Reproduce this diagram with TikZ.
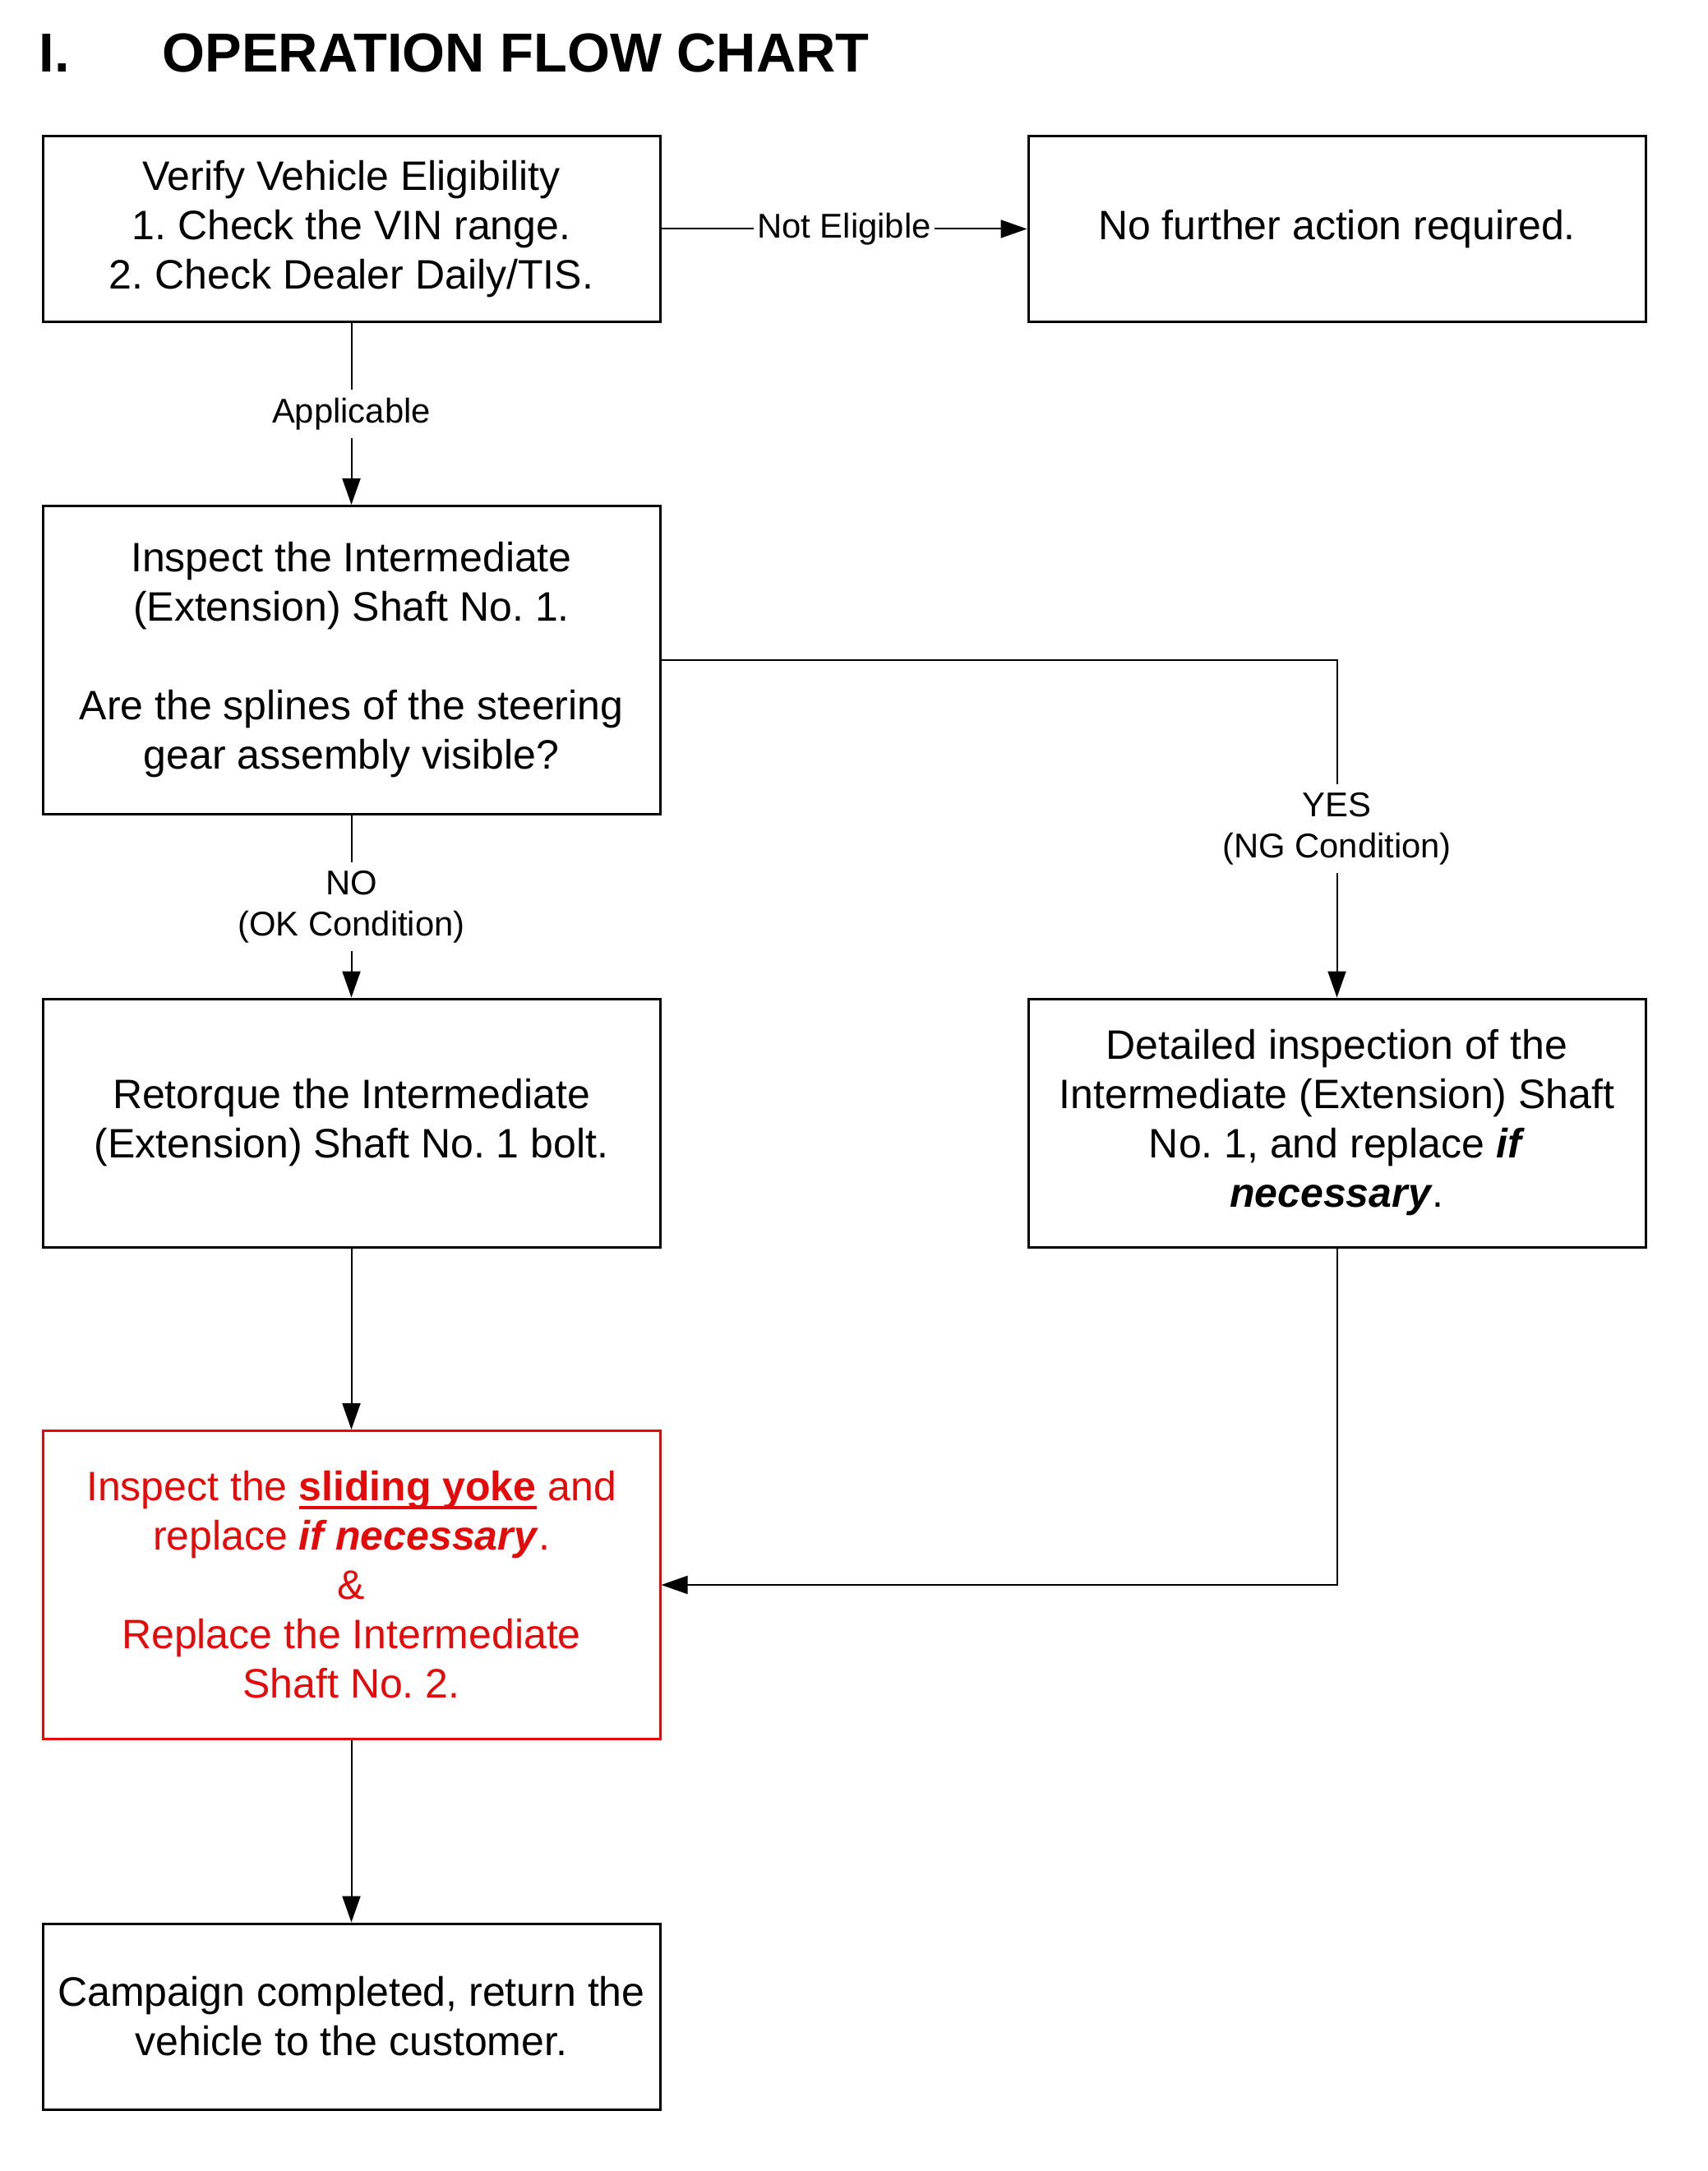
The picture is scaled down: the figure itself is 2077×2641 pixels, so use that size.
\documentclass[tikz,border=0pt]{standalone}
\usepackage{fontspec}
\setmainfont{Liberation Sans}
\usetikzlibrary{arrows.meta}
\definecolor{myred}{RGB}{228,10,10}
\newcommand{\myul}[1]{\setbox0\hbox{#1}\rlap{\rule[-2.6pt]{\wd0}{1pt}}\box0}
\begin{document}
\frenchspacing
\begin{tikzpicture}[x=0.25pt,y=-0.25pt,
  box/.style={draw, line width=0.75pt, minimum width=187.75pt, align=center,
    inner sep=2pt, font=\fontsize{12.5pt}{15pt}\selectfont\frenchspacing},
  lbl/.style={fill=white, align=center, inner sep=2.5pt,
    font=\fontsize{10.45pt}{12.5pt}\selectfont},
  conn/.style={line width=0.5pt, -{Triangle[length=8pt,width=5.5pt]}},
  ttl/.style={anchor=base west, inner sep=0, font=\fontsize{16.7pt}{20pt}\selectfont\bfseries}]
\useasboundingbox (0,0) rectangle (2077,2641);
\fill[white] (0,0) rectangle (2077,2641);

\node[ttl] (tnum) at (47,88) {I.};
\node[ttl] (title) at (197,88) {OPERATION FLOW CHART};

\node[box, minimum height=56.5pt] (b1) at (427.5,278.5) {Verify Vehicle Eligibility\\1. Check the VIN range.\\2. Check Dealer Daily/TIS.};
\node[box, minimum height=56.5pt] (b2) at (1626.5,278.5) {No further action required.};
\node[box, minimum height=93.75pt] (b3) at (427.5,803) {Inspect the Intermediate\\(Extension) Shaft No. 1.\\[15pt]Are the splines of the steering\\gear assembly visible?};
\node[box, minimum height=75.5pt] (b4) at (427.5,1366) {Retorque the Intermediate\\(Extension) Shaft No. 1 bolt.};
\node[box, minimum height=75.5pt] (b5) at (1626.5,1366) {Detailed inspection of the\\Intermediate (Extension) Shaft\\No. 1, and replace \textbf{\textit{if}}\\\textbf{\textit{necessary}}.};
\node[box, draw=myred, text=myred, minimum height=93.75pt] (b6) at (427.5,1928) {Inspect the \textbf{\myul{sliding yoke}} and\\replace \textbf{\textit{if necessary}}.\\\&\\Replace the Intermediate\\Shaft No. 2.};
\node[box, minimum height=56.5pt] (b7) at (427.5,2453) {Campaign completed, return the\\vehicle to the customer.};

\draw[conn] (b1.east) -- node[lbl, inner xsep=1pt] {Not Eligible} (b2.west);
\draw[conn] (b1.south) -- node[lbl] {Applicable} (b3.north);
\draw[conn] (b3.south) -- node[lbl] {NO\\(OK Condition)} (b4.north);
\draw[conn] (b3.east) -| node[lbl, pos=0.75] {YES\\(NG Condition)} (b5.north);
\draw[conn] (b4.south) -- (b6.north);
\draw[conn] (b5.south) |- (b6.east);
\draw[conn] (b6.south) -- (b7.north);
\end{tikzpicture}
\end{document}
